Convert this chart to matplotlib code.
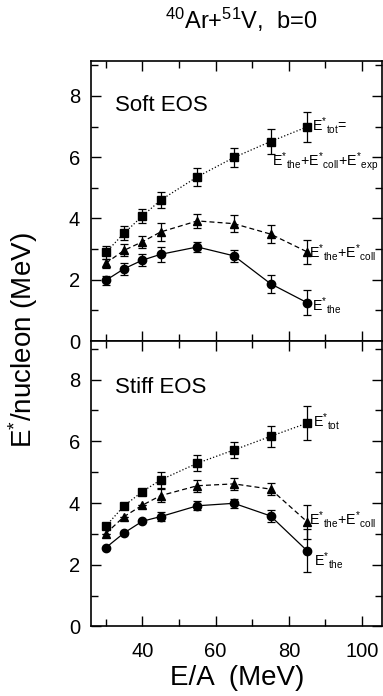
import numpy as np
import matplotlib.pyplot as plt
from matplotlib.ticker import MultipleLocator

plt.rcParams['font.family'] = ['Liberation Sans', 'DejaVu Sans']
plt.rcParams['mathtext.fontset'] = 'custom'
plt.rcParams['mathtext.rm'] = 'Liberation Sans'
plt.rcParams['mathtext.it'] = 'Liberation Sans'

# beam energy per nucleon (MeV)
energy = [30, 35, 40, 45, 55, 65, 75, 85]

# soft EOS
soft_tot = [2.89, 3.52, 4.08, 4.60, 5.36, 5.99, 6.51, 6.99]
soft_tot_err = [0.20, 0.23, 0.24, 0.25, 0.30, 0.30, 0.40, 0.50]
soft_coll = [2.54, 2.96, 3.24, 3.56, 3.92, 3.83, 3.49, 2.91]
soft_coll_err = [0.15, 0.20, 0.20, 0.30, 0.23, 0.27, 0.30, 0.40]
soft_the = [1.98, 2.36, 2.64, 2.83, 3.07, 2.78, 1.87, 1.25]
soft_the_err = [0.15, 0.20, 0.20, 0.25, 0.17, 0.20, 0.30, 0.40]

# stiff EOS
stiff_tot = [3.25, 3.91, 4.37, 4.75, 5.29, 5.72, 6.16, 6.59]
stiff_tot_err = [0.05, 0.05, 0.08, 0.25, 0.25, 0.25, 0.35, 0.54]
stiff_coll = [3.01, 3.56, 3.93, 4.24, 4.56, 4.62, 4.45, 3.39]
stiff_coll_err = [0.0, 0.0, 0.0, 0.20, 0.20, 0.20, 0.20, 0.55]
stiff_the = [2.55, 3.03, 3.41, 3.56, 3.91, 3.99, 3.58, 2.45]
stiff_the_err = [0.0, 0.0, 0.0, 0.15, 0.15, 0.15, 0.20, 0.70]

fig = plt.figure(figsize=(3.83, 6.96), dpi=100)
ax1 = fig.add_axes([0.238, 0.510, 0.760, 0.402])
ax2 = fig.add_axes([0.238, 0.100, 0.760, 0.410], sharex=ax1)

def draw(ax, tot, tot_e, coll, coll_e, the, the_e):
    kw = dict(color='black', capsize=3, elinewidth=0.9, capthick=0.9, lw=0.9)
    ax.errorbar(energy, tot, yerr=tot_e, fmt='s', ls=':', ms=5.5, **kw)
    ax.errorbar(energy, coll, yerr=coll_e, fmt='^', ls=(0, (4, 2.5)), ms=5.5, **kw)
    ax.errorbar(energy, the, yerr=the_e, fmt='o', ls='-', ms=6, **kw)
    ax.set_xlim(26, 105.5)
    ax.yaxis.set_major_locator(MultipleLocator(2))
    ax.yaxis.set_minor_locator(MultipleLocator(1))
    ax.xaxis.set_major_locator(MultipleLocator(20))
    ax.xaxis.set_minor_locator(MultipleLocator(10))
    ax.tick_params(which='both', direction='in', top=True, right=True,
                   labelsize=14.5, width=1, pad=8)
    ax.tick_params(axis='x', pad=11)
    ax.tick_params(which='major', length=7)
    ax.tick_params(which='minor', length=5)
    for s in ax.spines.values():
        s.set_linewidth(1.2)

draw(ax1, soft_tot, soft_tot_err, soft_coll, soft_coll_err, soft_the, soft_the_err)
draw(ax2, stiff_tot, stiff_tot_err, stiff_coll, stiff_coll_err, stiff_the, stiff_the_err)

ax1.set_ylim(0, 9.13)
ax2.set_ylim(0, 9.25)
ax1.tick_params(labelbottom=False)
ax1.set_xticks([40, 60, 80, 100])

lab = dict(fontsize=10.3, va='center', ha='left')
ax1.text(32.5, 7.7, 'Soft EOS', fontsize=16, va='center')
ax1.text(86.2, 7.03, r'E$^{*}{}_{\rm tot}$=', **lab)
ax1.text(75.4, 5.85, r'E$^{*}{}_{\rm the}$+E$^{*}{}_{\rm coll}$+E$^{*}{}_{\rm exp}$', **lab)
ax1.text(85.6, 2.88, r'E$^{*}{}_{\rm the}$+E$^{*}{}_{\rm coll}$', **lab)
ax1.text(86.2, 1.15, r'E$^{*}{}_{\rm the}$', **lab)

ax2.text(32.5, 7.75, 'Stiff EOS', fontsize=16, va='center')
ax2.text(86.6, 6.65, r'E$^{*}{}_{\rm tot}$', **lab)
ax2.text(85.6, 3.45, r'E$^{*}{}_{\rm the}$+E$^{*}{}_{\rm coll}$', **lab)
ax2.text(87.0, 2.15, r'E$^{*}{}_{\rm the}$', **lab)

ax2.set_xlabel('E/A  (MeV)', fontsize=20, labelpad=3)
fig.text(0.06, 0.511, r'E$^{*}$/nucleon (MeV)', rotation=90, fontsize=20,
         ha='center', va='center')
fig.text(0.63, 0.971, r'$^{40}$Ar+$^{51}$V,  b=0', fontsize=17,
         ha='center', va='center')

fig.savefig('out.png', dpi=100)
